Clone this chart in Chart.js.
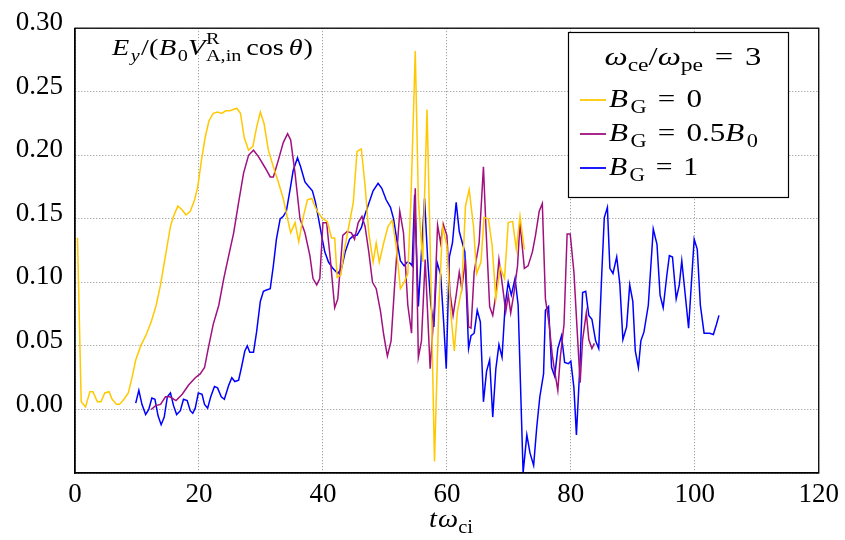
<!DOCTYPE html>
<html>
<head>
<meta charset="utf-8">
<script src="https://cdn.jsdelivr.net/npm/chart.js@4"></script>
<style>
  body { margin: 0; background: #fff; }
  canvas { display: block; }
</style>
</head>
<body>
<canvas id="ey-chart" width="845" height="540"></canvas>
<script>
// values: t*omega_ci and E_y (normalised)
const yellowT = [0.4, 1.0, 1.7, 2.4, 2.9, 3.6, 4.2, 4.8, 5.5, 6.0, 6.7, 7.2, 7.9, 8.6, 9.2, 9.8, 10.6, 11.5, 12.3, 13.1,
  13.8, 14.6, 15.4, 15.9, 16.6, 17.3, 17.9, 18.6, 19.3, 19.8, 20.4, 21.0, 21.6, 22.3, 23.0, 23.7, 24.3, 25.0, 26.1, 26.7,
  27.3, 28.0, 28.7, 29.3, 29.9, 30.5, 31.2, 32.0, 32.8, 33.6, 34.3, 34.8, 35.5, 36.1, 36.8, 37.5, 38.2, 38.7, 39.2, 40.0,
  40.7, 41.4, 41.9, 42.3, 42.9, 43.4, 44.1, 44.9, 45.5, 46.2, 46.8, 47.4, 48.1, 48.6, 49.1, 49.8, 50.5, 51.2, 51.8, 52.5,
  53.1, 53.7, 54.2, 54.9, 55.4, 56.1, 56.8, 57.4, 58.0, 58.7, 59.3, 60.0, 60.6, 61.2, 61.7, 62.4, 63.0, 63.6, 64.3, 64.8,
  65.5, 66.0, 66.7, 67.3, 67.9, 68.6, 69.3, 69.9, 70.6, 71.2, 71.8, 72.5];
const yellowV = [0.135, 0.006, 0.002, 0.014, 0.014, 0.006, 0.006, 0.013, 0.014, 0.008, 0.004, 0.004, 0.008, 0.013, 0.025, 0.039, 0.050, 0.059, 0.069, 0.082,
  0.098, 0.121, 0.144, 0.152, 0.160, 0.157, 0.153, 0.156, 0.165, 0.175, 0.196, 0.214, 0.227, 0.233, 0.234, 0.233, 0.235, 0.235, 0.237, 0.233,
  0.214, 0.204, 0.207, 0.222, 0.234, 0.225, 0.204, 0.191, 0.179, 0.166, 0.150, 0.139, 0.147, 0.132, 0.151, 0.165, 0.166, 0.160, 0.155, 0.150,
  0.148, 0.135, 0.135, 0.104, 0.106, 0.124, 0.142, 0.163, 0.203, 0.205, 0.176, 0.139, 0.116, 0.131, 0.116, 0.131, 0.144, 0.149, 0.129, 0.095,
  0.100, 0.107, 0.165, 0.282, 0.165, 0.116, 0.236, 0.108, -0.041, 0.080, 0.144, 0.129, 0.077, 0.046, 0.077, 0.095, 0.160, 0.173, 0.144, 0.107,
  0.116, 0.151, 0.150, 0.129, 0.087, 0.112, 0.103, 0.147, 0.148, 0.126, 0.152, 0.126];

const purpleT = [12.3, 13.0, 13.8, 14.6, 15.3, 16.3, 17.3, 18.3, 19.4, 20.2, 20.9, 21.5, 22.3, 23.2, 24.0, 24.8, 25.6, 26.4, 27.2, 28.0,
  28.8, 29.6, 30.7, 31.5, 32.0, 32.8, 33.6, 34.3, 34.8, 35.5, 36.3, 37.1, 37.9, 38.4, 39.0, 39.5, 40.0, 40.6, 41.2, 41.9,
  42.4, 43.2, 43.9, 44.6, 45.1, 45.7, 46.3, 46.8, 47.4, 48.0, 48.6, 49.3, 49.8, 50.4, 51.0, 51.6, 52.4, 53.0, 53.7, 54.3,
  54.9, 55.4, 55.9, 56.5, 57.3, 58.0, 58.5, 59.0, 59.4, 60.0, 60.5, 61.0, 61.5, 62.0, 62.4, 63.0, 63.5, 63.9, 64.4, 65.2,
  65.9, 66.3, 66.9, 67.4, 67.9, 68.4, 68.9, 69.5, 69.9, 70.3, 70.8, 71.4, 71.8, 72.5, 73.1, 73.8, 74.3, 74.9, 75.4, 75.9,
  76.5, 77.0, 77.4, 77.9, 78.3, 78.9, 79.4, 79.9, 80.5, 81.0, 81.5, 81.9, 82.5, 82.9, 83.4, 83.8];
const purpleV = [0.000, 0.003, 0.004, 0.010, 0.010, 0.007, 0.012, 0.019, 0.025, 0.028, 0.033, 0.048, 0.067, 0.082, 0.103, 0.121, 0.139, 0.163, 0.186, 0.200,
  0.204, 0.199, 0.190, 0.183, 0.183, 0.196, 0.210, 0.217, 0.212, 0.186, 0.150, 0.139, 0.121, 0.103, 0.098, 0.103, 0.147, 0.147, 0.118, 0.080,
  0.087, 0.137, 0.140, 0.139, 0.134, 0.147, 0.152, 0.144, 0.124, 0.100, 0.095, 0.077, 0.059, 0.042, 0.054, 0.100, 0.156, 0.139, 0.082, 0.060,
  0.174, 0.041, 0.054, 0.118, 0.032, 0.082, 0.145, 0.131, 0.146, 0.137, 0.092, 0.074, 0.090, 0.108, 0.095, 0.118, 0.065, 0.064, 0.108, 0.131,
  0.191, 0.144, 0.081, 0.074, 0.090, 0.118, 0.100, 0.077, 0.090, 0.076, 0.091, 0.113, 0.147, 0.111, 0.113, 0.124, 0.137, 0.156, 0.162, 0.087,
  0.067, 0.043, 0.030, 0.015, 0.041, 0.067, 0.138, 0.138, 0.108, 0.064, 0.021, 0.055, 0.076, 0.055, 0.048, 0.052];

const blueT = [9.8, 10.3, 10.8, 11.4, 11.9, 12.4, 12.9, 13.4, 13.9, 14.4, 14.9, 15.4, 15.9, 16.4, 17.0, 17.5, 18.1, 18.6, 19.0, 19.4,
  19.9, 20.5, 20.9, 21.4, 21.9, 22.5, 23.0, 23.6, 24.1, 24.8, 25.3, 25.8, 26.4, 26.9, 27.4, 27.8, 28.2, 28.8, 29.3, 29.9,
  30.4, 30.9, 31.5, 32.0, 32.5, 33.1, 33.6, 34.1, 34.7, 35.2, 35.9, 36.4, 37.1, 37.6, 38.3, 38.8, 39.3, 39.9, 40.3, 40.9,
  41.6, 42.4, 43.0, 43.6, 44.3, 45.0, 45.5, 46.2, 46.7, 47.4, 48.1, 48.9, 49.5, 50.2, 50.9, 51.4, 52.0, 52.5, 53.1, 53.6,
  54.1, 54.4, 54.8, 55.4, 56.4, 56.9, 57.4, 57.9, 58.4, 59.0, 59.5, 59.9, 60.4, 60.9, 61.5, 62.0, 62.5, 62.9, 63.5, 63.9,
  64.4, 64.9, 65.4, 65.9, 66.4, 66.9, 67.4, 67.9, 68.4, 68.9, 69.4, 69.9, 70.4, 71.0, 71.5, 72.3, 72.9, 73.4, 74.0, 74.5,
  75.0, 75.6, 75.9, 76.4, 76.9, 77.4, 77.9, 78.5, 79.0, 79.6, 80.0, 80.5, 80.9, 81.5, 81.9, 82.4, 82.9, 83.4, 84.0, 84.5,
  85.0, 85.4, 85.9, 86.3, 86.8, 87.4, 87.9, 88.4, 89.0, 89.5, 90.0, 90.4, 90.9, 91.3, 91.8, 92.5, 93.3, 93.9, 94.4, 94.9,
  95.5, 95.9, 96.4, 97.0, 97.5, 97.9, 98.4, 99.0, 99.5, 99.9, 100.4, 100.9, 101.5, 102.0, 102.4, 103.0, 103.5, 103.9];
const blueV = [0.005, 0.015, 0.004, -0.004, 0.000, 0.009, 0.008, -0.005, -0.012, -0.006, 0.010, 0.013, 0.003, -0.004, -0.001, 0.008, 0.007, -0.001, -0.003, 0.001,
  0.013, 0.012, 0.004, 0.001, 0.010, 0.018, 0.017, 0.010, 0.008, 0.019, 0.025, 0.022, 0.023, 0.034, 0.046, 0.050, 0.045, 0.045, 0.061, 0.085,
  0.093, 0.094, 0.095, 0.113, 0.134, 0.150, 0.152, 0.156, 0.173, 0.188, 0.198, 0.191, 0.179, 0.176, 0.172, 0.163, 0.150, 0.134, 0.124, 0.116,
  0.111, 0.107, 0.111, 0.124, 0.134, 0.137, 0.137, 0.143, 0.152, 0.162, 0.172, 0.178, 0.174, 0.165, 0.159, 0.150, 0.131, 0.117, 0.113, 0.116,
  0.115, 0.113, 0.169, 0.081, 0.166, 0.118, 0.083, 0.065, 0.116, 0.106, 0.067, 0.032, 0.120, 0.131, 0.163, 0.140, 0.131, 0.124, 0.048, 0.058,
  0.060, 0.078, 0.069, 0.006, 0.030, 0.039, -0.006, 0.032, 0.051, 0.041, 0.082, 0.100, 0.090, 0.103, 0.082, -0.050, -0.020, -0.034, -0.044, -0.014,
  0.010, 0.028, 0.078, 0.081, 0.033, 0.026, 0.048, 0.058, 0.037, 0.036, 0.038, 0.017, -0.020, 0.038, 0.092, 0.093, 0.074, 0.071, 0.054, 0.048,
  0.108, 0.151, 0.159, 0.111, 0.107, 0.120, 0.099, 0.055, 0.065, 0.098, 0.085, 0.046, 0.033, 0.054, 0.061, 0.082, 0.142, 0.130, 0.090, 0.080,
  0.106, 0.121, 0.120, 0.087, 0.098, 0.117, 0.093, 0.064, 0.103, 0.134, 0.126, 0.082, 0.060, 0.060, 0.060, 0.059, 0.067, 0.074];

const xTicks = [0, 20, 40, 60, 80, 100, 120];
const yTicks = [0.00, 0.05, 0.10, 0.15, 0.20, 0.25, 0.30];

const YELLOW = "#ffc800";
const PURPLE = "#a0107f";
const BLUE = "#0000ff";
const SERIF = '"Liberation Serif", "DejaVu Serif", serif';

function pairs(ts, vs) {
    return ts.map((t, i) => ({ x: t, y: vs[i] }));
}

// little math typesetter: italic letters, sub/superscripts
function setFont(ctx, size, italic) {
    ctx.font = (italic ? "italic " : "") + size + "px " + SERIF;
}
function runMath(ctx, parts, size, x, y, draw) {
    let cx = 0;
    const small = size * 0.72;
    for (const p of parts) {
        if (p.sup !== undefined) {
            setFont(ctx, small, false);
            const w = Math.max(ctx.measureText(p.sup).width, ctx.measureText(p.sub).width);
            if (draw) {
                ctx.fillText(p.sup, x + cx, y - size * 0.45);
                ctx.fillText(p.sub, x + cx, y + size * 0.24);
            }
            cx += w;
            continue;
        }
        const sz = p.s ? small : size;
        const dy = p.s === "sub" ? size * 0.24 : (p.s === "sup" ? -size * 0.45 : 0);
        const pad = (p.pad || 0) * size;
        setFont(ctx, sz, p.i);
        cx += pad;
        if (draw) ctx.fillText(p.t, x + cx, y + dy);
        cx += ctx.measureText(p.t).width + pad + (p.k || 0) * size;
    }
    return cx;
}
// draws a formula, stretched a little sideways so it spans the same width as in the figure
function drawMath(ctx, parts, size, x, y, align, width) {
    ctx.save();
    ctx.textAlign = "left";
    ctx.textBaseline = "alphabetic";
    ctx.fillStyle = "#000";
    const w = runMath(ctx, parts, size, 0, 0, false);
    const target = width || w;
    const x0 = align === "center" ? x - target / 2 : x;
    ctx.translate(x0, y);
    ctx.scale(target / w, 1);
    runMath(ctx, parts, size, 0, 0, true);
    ctx.restore();
}

const titleParts = [
    { t: "E", i: true, k: 0.05 }, { t: "y", i: true, s: "sub", k: 0.05 }, { t: "/" }, { t: "(", k: 0.03 }, { t: "B", i: true, k: 0.05 },
    { t: "0", s: "sub" }, { t: "V", i: true, k: 0.03 }, { sup: "R", sub: "A,in" }, { t: "cos", pad: 0.17 },
    { t: "θ", i: true, k: 0.04 }, { t: ")" }
];
const legendTitle = [
    { t: "ω", i: true }, { t: "ce", s: "sub" }, { t: "/" }, { t: "ω", i: true }, { t: "pe", s: "sub" },
    { t: "=", pad: 0.36 }, { t: "3" }
];
const legendItems = [
    { color: YELLOW, width: 93, parts: [{ t: "B", i: true, k: 0.08 }, { t: "G", s: "sub" }, { t: "=", pad: 0.36 }, { t: "0" }] },
    { color: PURPLE, width: 149, parts: [{ t: "B", i: true, k: 0.08 }, { t: "G", s: "sub" }, { t: "=", pad: 0.36 }, { t: "0.5" }, { t: "B", i: true, k: 0.08 }, { t: "0", s: "sub" }] },
    { color: BLUE, width: 89, parts: [{ t: "B", i: true, k: 0.08 }, { t: "G", s: "sub" }, { t: "=", pad: 0.36 }, { t: "1" }] }
];
const xTitle = [{ t: "t", i: true, k: 0.04 }, { t: "ω", i: true }, { t: "ci", s: "sub" }];

const decor = {
    id: "decor",
    afterDatasetsDraw(chart) {
        const ctx = chart.ctx;
        const a = chart.chartArea;
        ctx.save();
        // frame
        ctx.strokeStyle = "#000";
        ctx.lineWidth = 1.3;
        ctx.strokeRect(a.left, a.top, a.right - a.left, a.bottom - a.top);

        // inner label
        drawMath(ctx, titleParts, 24, 112, 55, "left", 201);

        // legend box
        ctx.fillStyle = "#fff";
        ctx.fillRect(568, 32, 220, 165);
        ctx.strokeStyle = "#000";
        ctx.lineWidth = 1.2;
        ctx.strokeRect(568.5, 32.5, 220, 165);
        drawMath(ctx, legendTitle, 26, 683, 65, "center", 157);
        legendItems.forEach((it, i) => {
            const ly = 100 + i * 34;
            ctx.strokeStyle = it.color;
            ctx.lineWidth = 1.8;
            ctx.beginPath();
            ctx.moveTo(580, ly);
            ctx.lineTo(606, ly);
            ctx.stroke();
            drawMath(ctx, it.parts, 26, 609, ly + 7, "left", it.width);
        });

        // x axis title
        drawMath(ctx, xTitle, 26, 451, 527, "center", 44);
        ctx.restore();
    }
};

const chart = new Chart(document.getElementById("ey-chart"), {
    type: "line",
    data: {
        datasets: [
            { label: "BG = 0", data: pairs(yellowT, yellowV), borderColor: YELLOW },
            { label: "BG = 0.5B0", data: pairs(purpleT, purpleV), borderColor: PURPLE },
            { label: "BG = 1", data: pairs(blueT, blueV), borderColor: BLUE }
        ]
    },
    options: {
        responsive: false,
        animation: false,
        layout: { padding: { top: 23, right: 23, left: 0, bottom: 0 } },
        elements: {
            line: { borderWidth: 1.5, tension: 0, fill: false },
            point: { radius: 0 }
        },
        plugins: {
            legend: { display: false },
            tooltip: { enabled: false }
        },
        scales: {
            x: {
                type: "linear",
                min: 0,
                max: 120,
                afterBuildTicks: s => { s.ticks = xTicks.map(v => ({ value: v })); },
                afterFit: s => { s.height = 67; },
                ticks: { font: { family: SERIF, size: 27 }, color: "#000", padding: 6, maxRotation: 0 },
                grid: { color: "#8c8c8c", lineWidth: 1, drawTicks: false },
                border: { display: true, color: "#000", width: 1.3, dash: [1, 2] }
            },
            y: {
                min: -0.05,
                max: 0.30,
                afterBuildTicks: s => { s.ticks = [-0.05].concat(yTicks).map(v => ({ value: v })); },
                afterFit: s => { s.width = 75; },
                ticks: {
                    font: { family: SERIF, size: 27 },
                    color: "#000",
                    padding: 12,
                    labelOffset: -5,
                    callback: v => (v < -0.01 ? "" : v.toFixed(2))
                },
                grid: { color: "#8c8c8c", lineWidth: 1, drawTicks: false },
                border: { display: true, color: "#000", width: 1.3, dash: [1, 2] }
            }
        }
    },
    plugins: [decor]
});
</script>
</body>
</html>
